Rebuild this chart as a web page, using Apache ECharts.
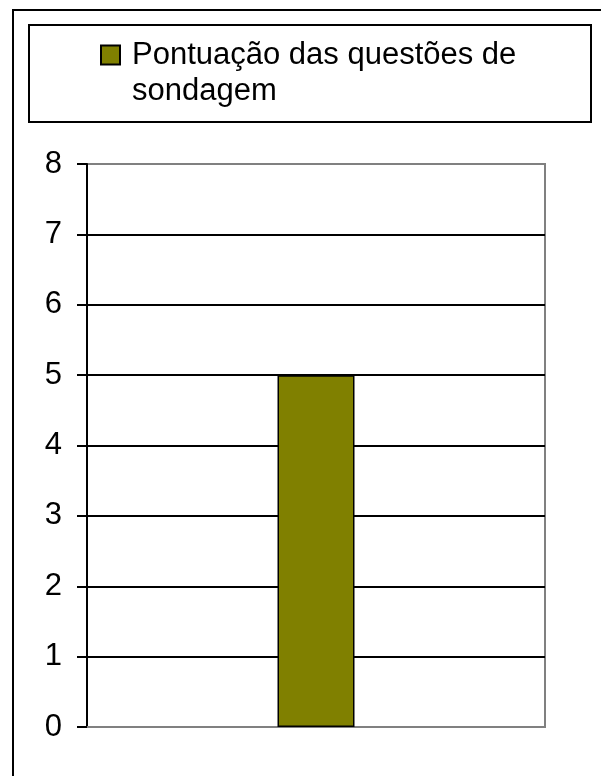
<!DOCTYPE html>
<html>
<head>
<meta charset="utf-8">
<script src="https://cdn.jsdelivr.net/npm/echarts@6/dist/echarts.min.js"></script>
<style>
html,body{margin:0;padding:0;background:#fff;}
#chart{width:601px;height:776px;}
</style>
</head>
<body>
<div id="chart"></div>
<script>
var seriesName = 'Pontuação das questões de\nsondagem';
var categories = [''];
var values = [5];
var yTicks = [0, 1, 2, 3, 4, 5, 6, 7, 8];

var chart = echarts.init(document.getElementById('chart'), null, {renderer: 'canvas'});
var font = 'Liberation Sans, Arial, sans-serif';
chart.setOption({
  animation: false,
  backgroundColor: '#fff',
  graphic: [
    {type: 'rect', silent: true, z: 0, shape: {x: 13, y: 10, width: 700, height: 800},
     style: {fill: 'none', stroke: '#000', lineWidth: 2}},
    {type: 'rect', silent: true, z: 0, shape: {x: 29, y: 25, width: 562, height: 97},
     style: {fill: 'none', stroke: '#000', lineWidth: 2}}
  ],
  legend: {
    show: true,
    left: 100,
    top: 1,
    padding: 0,
    itemWidth: 19,
    itemHeight: 19,
    itemGap: 0,
    icon: 'rect',
    formatter: function (name) {
      return '{t| }\n' + name.split('\n').map(function (l) { return '{t|' + l + '}'; }).join('\n');
    },
    textStyle: {
      fontFamily: font, fontSize: 31, color: '#000', lineHeight: 36,
      rich: {
        t: {fontFamily: font, fontSize: 31, color: '#000', lineHeight: 36, padding: [0, 0, 0, 7]}
      }
    },
    data: [seriesName]
  },
  grid: {
    left: 87, right: 56, top: 164, bottom: 49,
    show: true, borderColor: '#808080', borderWidth: 2, backgroundColor: '#fff'
  },
  xAxis: {
    type: 'category',
    data: categories,
    axisLine: {lineStyle: {color: '#808080', width: 2}},
    axisTick: {show: false},
    axisLabel: {show: false},
    splitLine: {show: false}
  },
  yAxis: {
    type: 'value',
    min: yTicks[0],
    max: yTicks[yTicks.length - 1],
    interval: 1,
    axisLine: {show: true, lineStyle: {color: '#000', width: 2}},
    axisTick: {show: true, inside: false, length: 10, lineStyle: {color: '#000', width: 2}},
    axisLabel: {margin: 25, fontFamily: font, fontSize: 31, color: '#000'},
    splitLine: {show: true, showMaxLine: false, showMinLine: false, lineStyle: {color: '#000', width: 2}}
  },
  series: [{
    name: seriesName,
    type: 'bar',
    data: values,
    barWidth: 77,
    itemStyle: {color: '#808000', borderColor: '#000', borderWidth: 1.5}
  }]
});
</script>
</body>
</html>
